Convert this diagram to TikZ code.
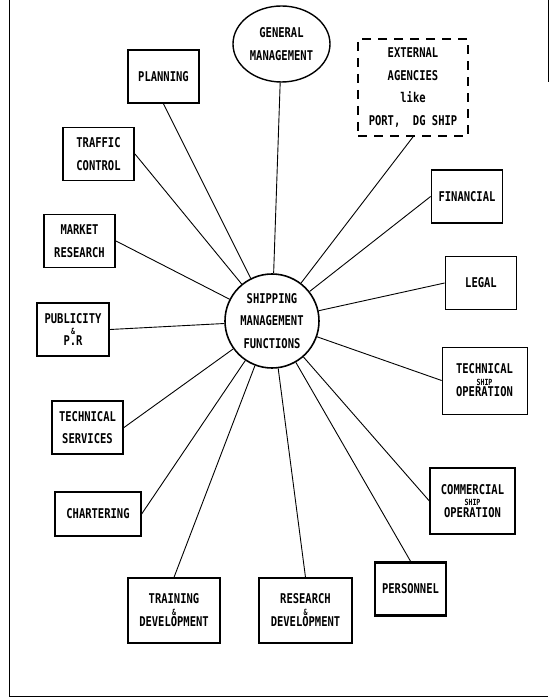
\documentclass[tikz,border=0pt]{standalone}
\usepackage{fontspec}
\newfontfamily\dotmatrix{DejaVu Sans Mono Bold}[FakeStretch=0.78]
\usetikzlibrary{positioning,shapes.geometric}
\newcommand{\squeeze}[1]{{\fontsize{8.5}{22.5}\selectfont #1}}
\newcommand{\amp}{\squeeze{\&}}

\begin{document}
\begin{tikzpicture}[
	on grid,
	font=\dotmatrix\fontsize{13.5}{22.5}\selectfont,
	box/.style={draw, line width=1.8pt, minimum width=71bp, minimum height=53bp, inner sep=0pt, align=center},
	thinbox/.style={box, line width=0.8pt},
	hub/.style={draw, circle, line width=1.6pt, minimum size=94bp, inner sep=0pt, align=center},
	oval/.style={draw, ellipse, line width=1.4pt, minimum width=97bp, minimum height=76bp, inner sep=0pt, align=center},
	spoke/.style={line width=0.9pt}
	]
	\useasboundingbox (-272bp,-376bp) rectangle (278bp,321bp);
	\draw[line width=1pt] (-262bp,321bp) to (-262bp,-375bp) to (276bp,-375bp);
	\draw[line width=0.8pt] (276bp,321bp) to (276bp,239bp);

	\node[hub] (ship) {SHIPPING\\MANAGEMENT\\FUNCTIONS};
	\node[oval, above right=277bp and 9.5bp of ship] (genmgmt) {GENERAL\\MANAGEMENT};
	\node[box, above left=244.5bp and 108.5bp of ship] (planning) {PLANNING};
	\node[box, dashed, dash pattern=on 9bp off 7bp, minimum width=110bp, minimum height=97bp, above right=233.5bp and 141bp of ship] (external) {EXTERNAL\\AGENCIES\\like\\PORT,\ \ DG SHIP};
	\node[box, line width=2pt, above left=167bp and 173.5bp of ship] (traffic) {TRAFFIC\\CONTROL};
	\node[box, above right=124.5bp and 195bp of ship] (financial) {FINANCIAL};
	\node[box, line width=2pt, above left=80bp and 192.5bp of ship] (market) {MARKET\\RESEARCH};
	\node[box, above right=38bp and 209bp of ship] (legal) {LEGAL};
	\node[box, line width=2pt, minimum width=72bp, below left=8.5bp and 199bp of ship] (publicity) {PUBLICITY\\[-11pt]\amp\\[-11pt]P.R};
	\node[thinbox, minimum width=85bp, minimum height=67bp, below right=59.5bp and 212.5bp of ship] (techship) {TECHNICAL\\[-11pt]\squeeze{SHIP}\\[-11pt]OPERATION};
	\node[box, line width=2pt, below left=106.5bp and 184.5bp of ship] (techserv) {TECHNICAL\\SERVICES};
	\node[box, line width=1.3pt, minimum width=86bp, minimum height=44bp, below left=193bp and 174bp of ship] (chartering) {CHARTERING};
	\node[box, line width=1.3pt, minimum width=85bp, minimum height=66bp, below right=180bp and 200.5bp of ship] (commercial) {COMMERCIAL\\[-11pt]\squeeze{SHIP}\\[-11pt]OPERATION};
	\node[box, line width=2.6pt, below right=268bp and 138.5bp of ship] (personnel) {PERSONNEL};
	\node[box, line width=1.3pt, minimum width=92bp, minimum height=65bp, below left=289.5bp and 98bp of ship] (training) {TRAINING\\[-11pt]\amp\\[-11pt]DEVELOPMENT};
	\node[box, line width=1.3pt, minimum width=93bp, minimum height=65bp, below right=289.5bp and 33.5bp of ship] (research) {RESEARCH\\[-11pt]\amp\\[-11pt]DEVELOPMENT};

	\draw[spoke] (genmgmt) to (ship);
	\draw[spoke] (planning.south) to (ship);
	\draw[spoke] (external.south) to (ship);
	\draw[spoke] (traffic.east) to (ship);
	\draw[spoke] (financial.west) to (ship);
	\draw[spoke] (market.east) to (ship);
	\draw[spoke] (legal.west) to (ship);
	\draw[spoke] (publicity.east) to (ship);
	\draw[spoke] (techship.west) to (ship);
	\draw[spoke] (techserv.east) to (ship);
	\draw[spoke] (chartering.east) to (ship);
	\draw[spoke] (commercial.west) to (ship);
	\draw[spoke] (personnel.north) to (ship);
	\draw[spoke] (training.north) to (ship);
	\draw[spoke] (research.north) to (ship);
\end{tikzpicture}
\end{document}
